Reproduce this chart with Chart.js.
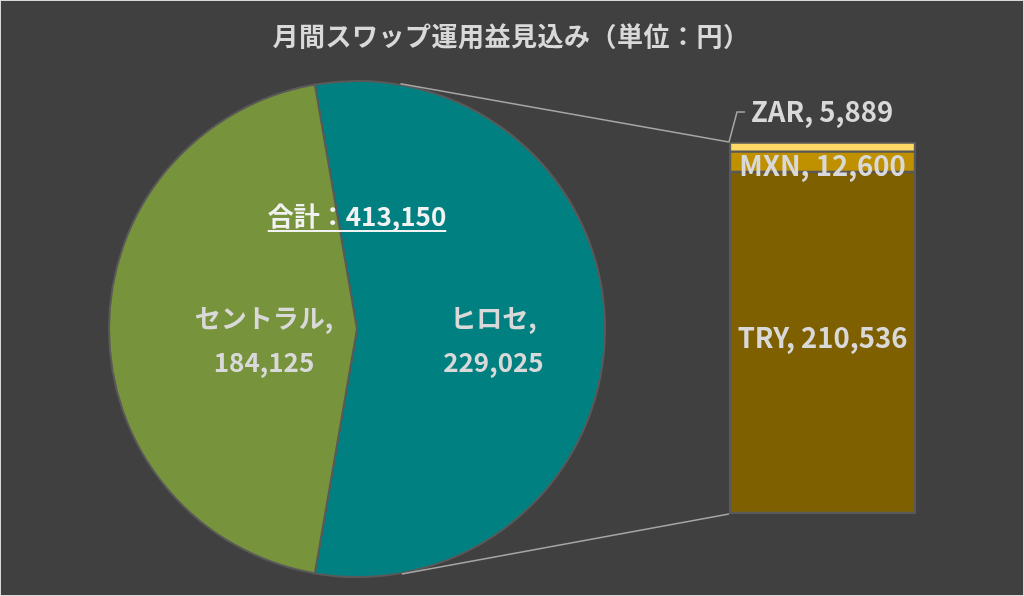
<!DOCTYPE html>
<html lang="ja">
<head>
<meta charset="utf-8">
<script src="https://cdn.jsdelivr.net/npm/chart.js@4.4.1/dist/chart.umd.min.js"></script>
<style>
html,body{margin:0;padding:0;background:#404040;}
#wrap{position:relative;width:1024px;height:596px;box-sizing:border-box;border:1px solid #d9d9d9;background:#404040;overflow:hidden;}
#title{position:absolute;left:-1px;top:19px;width:1022px;text-align:center;color:#d9d9d9;font:bold 26px "Noto Sans CJK JP",sans-serif;line-height:30px;letter-spacing:0.5px;}
canvas{position:absolute;left:-1px;top:-1px;}
</style>
</head>
<body>
<div id="wrap">
  <canvas id="pie" width="1024" height="596"></canvas>
  <canvas id="bar" width="1024" height="596"></canvas>
  <div id="title">月間スワップ運用益見込み（単位：円）</div>
</div>
<script>
// ---- データ ----
const pieLabels = ['ヒロセ', 'セントラル'];
const pieValues = [229025, 184125];
const pieColors = ['#008080', '#77933C'];

const barLabels = ['TRY', 'MXN', 'ZAR'];
const barValues = [210536, 12600, 5889];
const barColors = ['#7F6000', '#BF9000', '#FFD966'];

const totalLabel = '合計：';

const FONT = '"Noto Sans CJK JP", sans-serif';
const TEXT = '#D9D9D9';
const EDGE = '#595959';

function fmt(v){ return v.toLocaleString('en-US'); }

const pieTotal = pieValues.reduce((a, b) => a + b, 0);
const barTotal = barValues.reduce((a, b) => a + b, 0);
// ヒロセ(棒グラフに分割される方)を右側の中央に置く
const pieRotation = 90 - (pieValues[0] / pieTotal * 360) / 2;

//__________ 円グラフのラベル __________//
const pieLabelPlugin = {
  id: 'pieLabels',
  afterDatasetsDraw(chart){
    const ctx = chart.ctx;
    const arcs = chart.getDatasetMeta(0).data;
    const factor = [0.55, 0.375];
    ctx.save();
    ctx.font = 'bold 26px ' + FONT;
    ctx.fillStyle = TEXT;
    ctx.textAlign = 'center';
    ctx.textBaseline = 'middle';
    arcs.forEach(function(arc, i){
      const mid = (arc.startAngle + arc.endAngle) / 2;
      const px = arc.x + Math.cos(mid) * arc.outerRadius * factor[i];
      const py = arc.y + Math.sin(mid) * arc.outerRadius * factor[i] + 11;
      ctx.fillText(pieLabels[i] + ',', px, py - 22);
      ctx.fillText(fmt(pieValues[i]), px, py + 22);
    });
    // 合計
    const c = arcs[0];
    const txt = totalLabel + fmt(pieTotal);
    ctx.fillStyle = '#F2F2F2';
    const ty = c.y - 113;
    ctx.fillText(txt, c.x, ty);
    const w = ctx.measureText(txt).width;
    ctx.strokeStyle = '#F2F2F2';
    ctx.lineWidth = 2;
    ctx.beginPath();
    ctx.moveTo(c.x - w / 2, ty + 15);
    ctx.lineTo(c.x + w / 2, ty + 15);
    ctx.stroke();
    ctx.restore();
  }
};

const pieChart = new Chart(document.getElementById('pie'), {
  type: 'pie',
  data: {
    labels: pieLabels,
    datasets: [{
      data: pieValues,
      backgroundColor: pieColors,
      borderColor: EDGE,
      borderWidth: 2
    }]
  },
  options: {
    responsive: false,
    animation: false,
    rotation: pieRotation,
    layout: {padding: {left: 108, right: 418, top: 80, bottom: 18}},
    plugins: {legend: {display: false}, tooltip: {enabled: false}}
  },
  plugins: [pieLabelPlugin]
});

//__________ 棒グラフのラベル・接続線 __________//
const barLabelPlugin = {
  id: 'barLabels',
  afterDatasetsDraw(chart){
    const ctx = chart.ctx;
    const offsets = [-5, 4];
    ctx.save();
    ctx.font = 'bold 27.5px ' + FONT;
    ctx.fillStyle = TEXT;
    ctx.textBaseline = 'middle';
    barLabels.forEach(function(l, i){
      const bar = chart.getDatasetMeta(i).data[0];
      const txt = l + ', ' + fmt(barValues[i]);
      if (i < 2) {
        ctx.textAlign = 'center';
        ctx.fillText(txt, bar.x, (bar.y + bar.base) / 2 + offsets[i]);
      } else {
        // 小さすぎるので外に出して引き出し線
        const left = bar.x - bar.width / 2;
        const ly = bar.y - 30;
        ctx.strokeStyle = '#A6A6A6';
        ctx.lineWidth = 1.5;
        ctx.beginPath();
        ctx.moveTo(left, bar.y);
        ctx.lineTo(left + 8, ly);
        ctx.lineTo(left + 16, ly);
        ctx.stroke();
        ctx.textAlign = 'left';
        ctx.fillText(txt, left + 22, ly);
      }
    });
    ctx.restore();
  }
};

const connectorPlugin = {
  id: 'connector',
  afterDraw(chart){
    const ctx = chart.ctx;
    const c = pieChart.getDatasetMeta(0).data[0];
    const r = c.outerRadius + 1;
    const top = chart.getDatasetMeta(barLabels.length - 1).data[0];
    const bottom = chart.getDatasetMeta(0).data[0];
    const left = top.x - top.width / 2;
    const pts = [[left, top.y], [left, bottom.base]];
    ctx.save();
    ctx.strokeStyle = '#A6A6A6';
    ctx.lineWidth = 1.5;
    pts.forEach(function(p){
      const dx = p[0] - c.x, dy = p[1] - c.y;
      const d = Math.sqrt(dx * dx + dy * dy);
      const a = Math.atan2(dy, dx);
      const delta = Math.acos(r / d);
      const t = p[1] < c.y ? a - delta : a + delta;
      ctx.beginPath();
      ctx.moveTo(c.x + Math.cos(t) * r, c.y + Math.sin(t) * r);
      ctx.lineTo(p[0], p[1]);
      ctx.stroke();
    });
    ctx.restore();
  }
};

const n = barLabels.length;
const barChart = new Chart(document.getElementById('bar'), {
  type: 'bar',
  data: {
    labels: ['ヒロセ'],
    datasets: barLabels.map(function(l, i){
      return {
        label: l,
        data: [barValues[i]],
        backgroundColor: barColors[i],
        borderColor: EDGE,
        borderWidth: {left: 2.5, right: 2.5, top: i === n - 1 ? 2 : 1.5, bottom: i === 0 ? 2.5 : 1.5},
        borderSkipped: false,
        categoryPercentage: 1,
        barPercentage: 1
      };
    })
  },
  options: {
    responsive: false,
    animation: false,
    layout: {padding: {left: 729, right: 108, top: 142, bottom: 82}},
    scales: {
      x: {display: false, stacked: true},
      y: {display: false, stacked: true, min: 0, max: barTotal}
    },
    plugins: {legend: {display: false}, tooltip: {enabled: false}}
  },
  plugins: [barLabelPlugin, connectorPlugin]
});
</script>
</body>
</html>
